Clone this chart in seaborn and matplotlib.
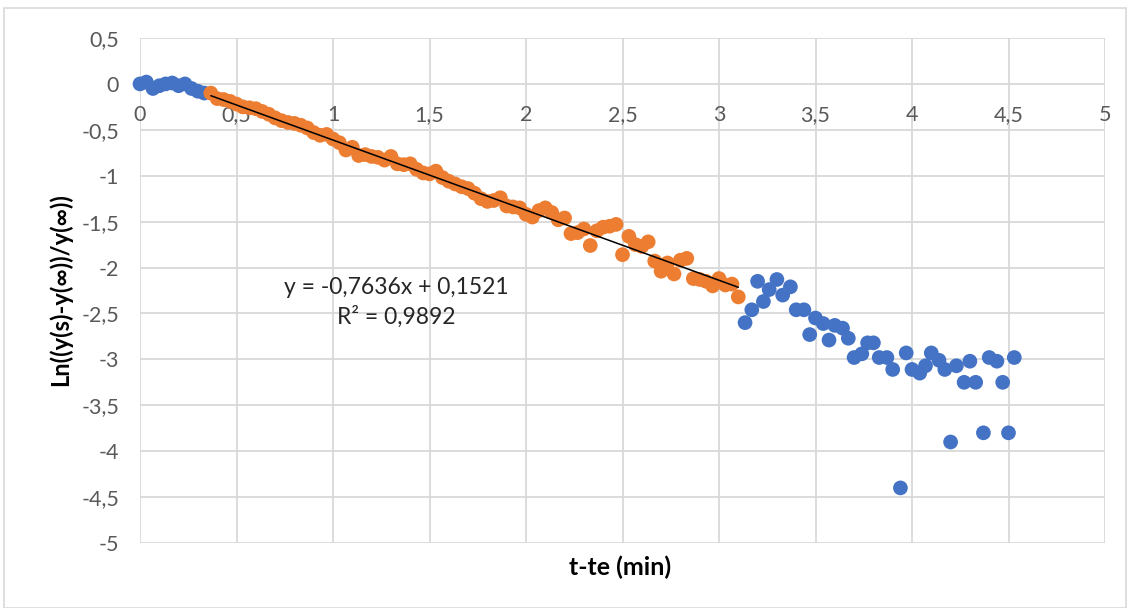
import numpy as np
import pandas as pd
import matplotlib
matplotlib.use("Agg")
import matplotlib.pyplot as plt
import seaborn as sns
from matplotlib.ticker import FuncFormatter, MultipleLocator
from matplotlib.patches import Rectangle

# ---- data ----
blue_start_x = [0.0, 0.033, 0.067, 0.1, 0.133, 0.167, 0.2, 0.233, 0.267, 0.3, 0.333]
blue_start_y = [0.0, 0.02, -0.05, -0.02, 0.0, 0.01, -0.02, 0.0, -0.05, -0.08, -0.10]

orange_x = [0.367, 0.4, 0.433, 0.467, 0.5, 0.533, 0.567, 0.6, 0.633, 0.667,
            0.7, 0.733, 0.767, 0.8, 0.833, 0.867, 0.9, 0.933, 0.967, 1.0,
            1.033, 1.067, 1.1, 1.133, 1.167, 1.2, 1.233, 1.267, 1.3, 1.333,
            1.367, 1.4, 1.433, 1.467, 1.5, 1.533, 1.567, 1.6, 1.633, 1.667,
            1.7, 1.733, 1.767, 1.8, 1.833, 1.867, 1.9, 1.933, 1.967, 2.0,
            2.033, 2.067, 2.1, 2.133, 2.167, 2.2, 2.233, 2.267, 2.3, 2.333,
            2.367, 2.4, 2.433, 2.467, 2.5, 2.533, 2.567, 2.6, 2.633, 2.667,
            2.7, 2.733, 2.767, 2.8, 2.833, 2.867, 2.9, 2.933, 2.967, 3.0,
            3.033, 3.067, 3.1]
orange_y = [-0.10, -0.16, -0.17, -0.19, -0.22, -0.25, -0.26, -0.27, -0.30, -0.33,
            -0.37, -0.40, -0.42, -0.43, -0.45, -0.48, -0.53, -0.56, -0.55, -0.60,
            -0.64, -0.72, -0.69, -0.78, -0.77, -0.79, -0.80, -0.83, -0.79, -0.87,
            -0.88, -0.87, -0.93, -0.97, -0.98, -0.95, -1.02, -1.06, -1.09, -1.12,
            -1.14, -1.19, -1.25, -1.28, -1.27, -1.24, -1.33, -1.34, -1.35, -1.42,
            -1.45, -1.38, -1.35, -1.40, -1.48, -1.46, -1.63, -1.62, -1.58, -1.76,
            -1.60, -1.56, -1.55, -1.53, -1.86, -1.66, -1.75, -1.77, -1.72, -1.93,
            -2.04, -1.95, -2.07, -1.92, -1.90, -2.12, -2.13, -2.15, -2.20, -2.12,
            -2.19, -2.18, -2.32]

blue_end_x = [3.135, 3.17, 3.20, 3.23, 3.26, 3.30, 3.33, 3.37, 3.40, 3.44,
              3.47, 3.50, 3.54, 3.57, 3.60, 3.64, 3.67, 3.70, 3.74, 3.77,
              3.80, 3.83, 3.87, 3.90, 3.94, 3.97, 4.00, 4.04, 4.07, 4.10,
              4.14, 4.17, 4.20, 4.23, 4.27, 4.30, 4.33, 4.37, 4.40, 4.44,
              4.47, 4.50, 4.53]
blue_end_y = [-2.60, -2.46, -2.15, -2.37, -2.24, -2.13, -2.30, -2.21, -2.46, -2.46,
              -2.73, -2.55, -2.61, -2.79, -2.63, -2.66, -2.77, -2.98, -2.94, -2.82,
              -2.82, -2.98, -2.98, -3.11, -4.40, -2.93, -3.11, -3.15, -3.07, -2.93,
              -3.01, -3.11, -3.90, -3.07, -3.25, -3.02, -3.25, -3.80, -2.98, -3.02,
              -3.25, -3.80, -2.98]

trend_slope = -0.7636
trend_intercept = 0.1521
trend_label = "y = -0,7636x + 0,1521\nR² = 0,9892"

x_label = "t-te (min)"
y_label = "Ln((y(s)-y(\u221e))/y(\u221e))"

BLUE = "#4472C4"
ORANGE = "#ED7D31"
GRID = "#D9D9D9"
TICK = "#595959"

# ---- figure ----
sns.set_theme(style="white")
plt.rcParams["font.family"] = ["Lato", "DejaVu Sans"]
plt.rcParams["axes.unicode_minus"] = False

fig = plt.figure(figsize=(11.34, 6.08), dpi=100)
ax = fig.add_axes([140 / 1134, 1 - 543 / 608, (1105 - 140) / 1134, (543 - 38) / 608])

df_blue = pd.DataFrame({"x": blue_start_x + blue_end_x, "y": blue_start_y + blue_end_y})
df_orange = pd.DataFrame({"x": orange_x, "y": orange_y})

sns.scatterplot(data=df_blue, x="x", y="y", ax=ax, color=BLUE, s=112,
                edgecolor="none", linewidth=0, zorder=3, clip_on=False)
sns.scatterplot(data=df_orange, x="x", y="y", ax=ax, color=ORANGE, s=112,
                edgecolor="none", linewidth=0, zorder=4, clip_on=False)

tx = np.array([min(orange_x), max(orange_x)])
df_trend = pd.DataFrame({"x": tx, "y": trend_slope * tx + trend_intercept})
sns.lineplot(data=df_trend, x="x", y="y", ax=ax, color="black", linewidth=1.1, zorder=5)

ax.text(1.33, -2.38, trend_label, ha="center", va="center", fontsize=16.5,
        color="#262626", linespacing=1.45, zorder=6)

ax.set_xlim(0, 5)
ax.set_ylim(-5, 0.5)
ax.xaxis.set_major_locator(MultipleLocator(0.5))
ax.yaxis.set_major_locator(MultipleLocator(0.5))
fmt = FuncFormatter(lambda v, p: f"{v:g}".replace(".", ","))
ax.xaxis.set_major_formatter(fmt)
ax.yaxis.set_major_formatter(fmt)

ax.grid(True, color=GRID, linewidth=1.3)
ax.set_axisbelow(True)
for s in ax.spines.values():
    s.set_visible(False)
ax.spines["bottom"].set_position(("data", 0))
ax.tick_params(axis="both", length=0, labelsize=15.5, labelcolor=TICK)
ax.tick_params(axis="x", pad=15)
ax.tick_params(axis="y", pad=15)

ax.set_xlabel("")
ax.set_ylabel("")
fig.text(620 / 1134, 1 - 567 / 608, x_label, ha="center", va="center",
         fontsize=18, fontweight="bold", color="black")
fig.text(60 / 1134, 1 - 290 / 608, y_label, ha="center", va="center",
         rotation=90, fontsize=17, fontweight="bold", color="black")

fig.patches.append(Rectangle((4 / 1134, 0.0), 1122 / 1134, 1 - 8 / 608,
                             transform=fig.transFigure, fill=False,
                             edgecolor=GRID, linewidth=1.2))

fig.savefig("out.png", dpi=100, facecolor="white")
